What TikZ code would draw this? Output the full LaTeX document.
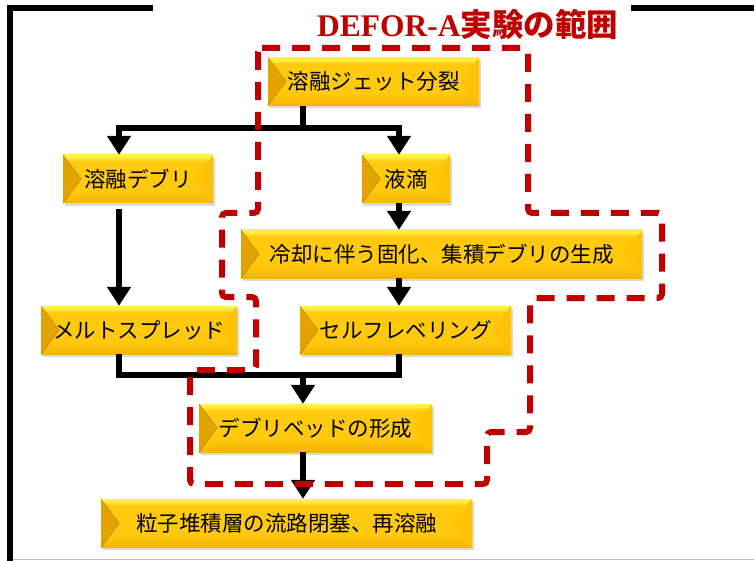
\documentclass[tikz,border=0pt]{standalone}
\usepackage{fontspec}
\newfontfamily\jpfont{Noto Sans CJK JP}
\newfontfamily\titlefont{Liberation Serif}
\usetikzlibrary{arrows.meta,shadows}

\definecolor{rangered}{HTML}{C00000}
\definecolor{goldhi}{HTML}{FFF04A}
\definecolor{goldmid}{HTML}{FFC90E}
\definecolor{goldlow}{HTML}{F5B400}
\definecolor{bevelL}{HTML}{E2A200}
\definecolor{bevelLL}{HTML}{F2B600}
\definecolor{bevelR}{HTML}{FFC205}
\pgfdeclareverticalshading{goldbar}{100bp}{color(0bp)=(goldlow); color(25bp)=(goldlow); color(38bp)=(goldmid); color(68bp)=(goldmid); color(73bp)=(goldhi); color(100bp)=(goldhi)}

\tikzset{
  stagebox/.style={inner sep=0pt,minimum height=48pt,shading=goldbar,
    font=\jpfont\fontsize{21.5pt}{24pt}\selectfont,
    drop shadow={shadow xshift=2pt,shadow yshift=-3pt,opacity=.3},
    path picture={
      \fill[left color=bevelL,right color=bevelLL] (path picture bounding box.north west)
        -- (path picture bounding box.south west) -- ([xshift=18pt]path picture bounding box.west) -- cycle;
      \fill[bevelR] (path picture bounding box.north east)
        -- (path picture bounding box.south east) -- ([xshift=-18pt]path picture bounding box.east) -- cycle;
    }},
  flow/.style={line width=6pt},
  arr/.style={flow,-{Triangle[width=23pt,length=19pt]}},
  rangeline/.style={rangered,line width=6pt,dash pattern=on 18pt off 12pt,rounded corners=4pt},
  frame/.style={line width=6pt}
}

\begin{document}
\begin{tikzpicture}[x=1pt,y=-1pt]
\useasboundingbox (0,0) rectangle (754,561);

% outer frame
\draw[frame] (153,8.5) -- (10,8.5) -- (10,561);
\draw[frame] (631,8.5) -- (754,8.5);
\draw[black!25,line width=1pt] (13,559.5) -- (754,559.5);

% title
\draw (317,37) node[anchor=base west,inner sep=0pt,text=rangered,font=\bfseries\fontsize{31.5pt}{34pt}\selectfont] (title)
  {\titlefont DEFOR-A\jpfont 実験の範囲};

% stages
\draw (373.5,81.5) node[stagebox,minimum width=211pt] (jet) {溶融ジェット分裂};
\draw (138,179) node[stagebox,minimum width=150pt] (debri) {溶融デブリ};
\draw (406,179) node[stagebox,minimum width=88pt] (drop) {液滴};
\draw (441.5,254) node[stagebox,minimum width=401pt] (solid) {冷却に伴う固化、集積デブリの生成};
\draw (139,330) node[stagebox,minimum width=196pt] (spread) {メルトスプレッド};
\draw (405.5,330) node[stagebox,minimum width=211pt] (level) {セルフレベリング};
\draw (315.5,428) node[stagebox,minimum width=233pt] (bed) {デブリベッドの形成};
\draw (286.5,523) node[stagebox,minimum width=371pt] (block) {粒子堆積層の流路閉塞、再溶融};

% connectors
\coordinate (colL) at (119,0);
\coordinate (colR) at (399,0);
\coordinate (split) at (303,128);
\coordinate (merge) at (303,375);

\draw[flow] (jet.south -| split) -- (split);
\draw[arr] (split) -| (debri.north -| colL);
\draw[arr] (split) -| (drop.north -| colR);
\draw[arr] (debri.south -| colL) ++(0,6) -- (spread.north -| colL);
\draw[arr] (drop.south -| colR) -- (solid.north -| colR);
\draw[arr] (solid.south -| colR) -- (level.north -| colR);
\draw[flow] (spread.south -| colL) |- (merge) -| (level.south -| colR);
\draw[arr] (merge) -- (bed.north -| merge);
\draw[arr] (bed.south -| merge) -- (block.north -| merge);

% DEFOR-A range
\draw[rangeline] (258,48) -- (528,48) -- (528,213) -- (662,213) -- (662,298) -- (530,298)
  -- (530,432) -- (487,432) -- (487,484) -- (190,484) -- (190,370) -- (256,370)
  -- (256,297) -- (222,297) -- (222,213) -- (258,213) -- cycle;

\end{tikzpicture}
\end{document}
